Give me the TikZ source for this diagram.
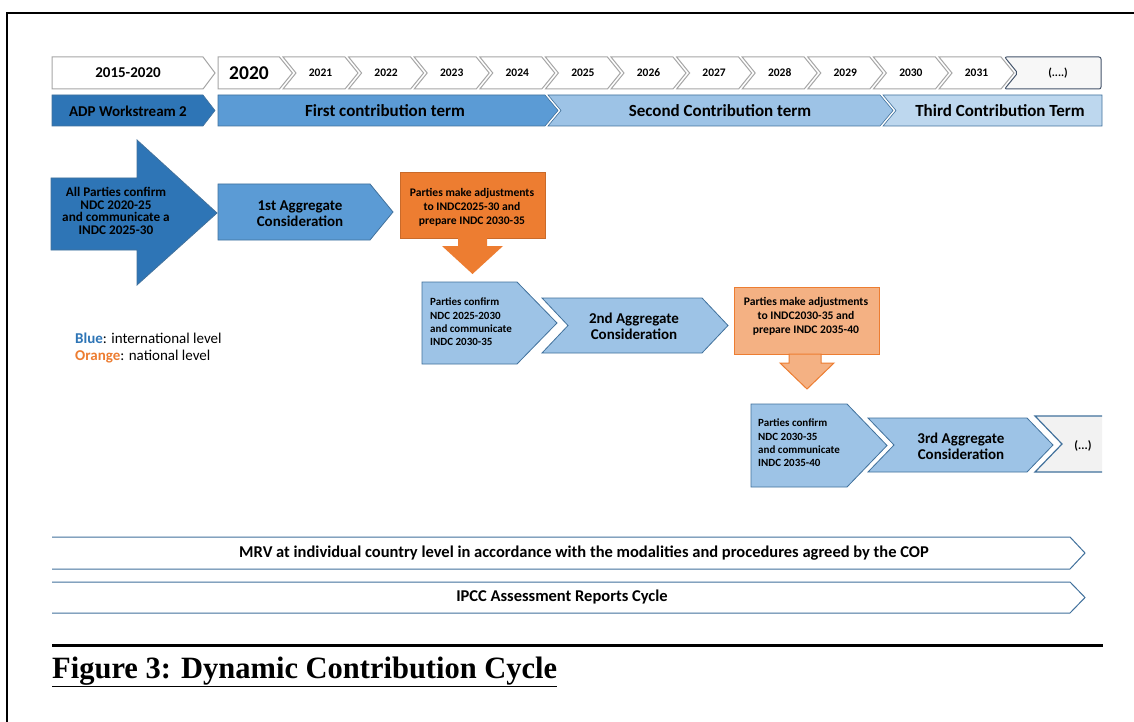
\documentclass[tikz,border=0pt]{standalone}
\usepackage{fontspec}
\usepackage{graphicx}
\setmainfont{Carlito}
\newfontfamily\capfont{Liberation Serif}
\definecolor{dblue}{HTML}{2E75B6}
\definecolor{mblue}{HTML}{5B9BD5}
\definecolor{lblue}{HTML}{9DC3E6}
\definecolor{xblue}{HTML}{BDD7EE}
\definecolor{edgeb}{HTML}{41719C}
\definecolor{orng}{HTML}{ED7D31}
\definecolor{lorng}{HTML}{F4B183}
\definecolor{gryline}{HTML}{A6A6A6}
\definecolor{lgray}{HTML}{F2F2F2}
\definecolor{slate}{HTML}{44546A}
\newcommand\fs[2]{\fontsize{#1}{#2}\selectfont}
% pentagon: style, x1, y1, xflat, xtip, y2
\newcommand\pentshape[6]{\path[#1] (#2,#3) -- (#4,#3) -- (#5,{(#3+#6)/2}) -- (#4,#6) -- (#2,#6) -- cycle;}
% chevron: style, xleft, y1, xflat, xtip, y2
\newcommand\chevshape[6]{\path[#1] (#2,#3) -- (#4,#3) -- (#5,{(#3+#6)/2}) -- (#4,#6) -- (#2,#6) -- ({#2+#5-#4},{(#3+#6)/2}) -- cycle;}
\tikzset{
  lbl/.style={inner sep=0pt, align=center, font=\bfseries},
  yearbox/.style={fill=white, draw=gryline, line width=1pt},
  termbox/.style={draw=edgeb, line width=0.6pt},
  bluebox/.style={draw=edgeb, line width=0.8pt},
  barbox/.style={fill=white, draw=edgeb, line width=1pt},
}
\begin{document}
\begin{tikzpicture}[x=1pt,y=-1pt]
\useasboundingbox (0,0) rectangle (1134,722);
\fill[white] (0,0) rectangle (1134,722);
% frame
\draw[line width=2pt] (7,722) -- (7,13) -- (1134,13);

% ---- year row ----
\pentshape{yearbox}{52}{57}{203}{215}{89}
\node[lbl, font=\bfseries\fs{15}{17}] (p1520) at (128,73) {2015-2020};
\pentshape{yearbox}{218}{57}{279.4}{292.4}{89}
\node[lbl, font=\bfseries\fs{19.5}{21}] (y2020) at (249,73) {2020};
\foreach \yr [count=\k from 0] in {2021,2022,2023,2024,2025,2026,2027,2028,2029,2030,2031}{
  \pgfmathsetmacro\L{283+65.6*\k}
  \pgfmathsetmacro\F{\L+62}
  \pgfmathsetmacro\T{\F+13}
  \chevshape{yearbox}{\L}{57}{\F}{\T}{89}
  \node[lbl, font=\bfseries\fs{11.5}{13}] (y\yr) at ({\L+37.5},73) {\yr};
}
\path[fill=lgray!60, draw=slate, line width=1pt, rounded corners=2pt] (1004.6,57) -- (1101,57) -- (1101,89) -- (1004.6,89) -- (1017.6,73) -- cycle;
\node[lbl, font=\bfseries\fs{11.5}{13}] (ymore) at (1058,73) {(....)};

% ---- term row ----
\pentshape{fill=dblue, termbox}{52}{95}{203}{215}{126}
\node[lbl, font=\bfseries\fs{15}{17}] (adp) at (128,111) {ADP Workstream 2};
\pentshape{fill=mblue, termbox}{218}{95}{545}{558}{126}
\node[lbl, font=\bfseries\fs{17}{19}] (t1) at (385,111) {First contribution term};
\chevshape{fill=lblue, termbox}{548}{95}{880}{893}{126}
\node[lbl, font=\bfseries\fs{17}{19}] (t2) at (720,111) {Second Contribution term};
\path[fill=xblue, termbox] (883,95) -- (1102,95) -- (1102,126) -- (883,126) -- (896,110.5) -- cycle;
\node[lbl, font=\bfseries\fs{17}{19}] (t3) at (1000,111) {Third Contribution Term};

% ---- big arrow ----
\path[fill=dblue, bluebox] (51,178) -- (137,178) -- (137,140) -- (217,213) -- (137,285) -- (137,250) -- (51,250) -- cycle;
\node[lbl, font=\bfseries\fs{13.2}{12.7}, text=black] (allp) at (116,211) {All Parties confirm\\NDC 2020-25\\and communicate a\\INDC 2025-30};

% 1st aggregate
\pentshape{fill=mblue, bluebox}{218}{184}{370}{393}{240}
\node[lbl, font=\bfseries\fs{15}{16}] (agg1) at (300,214) {1st Aggregate\\Consideration};

% orange box 1
\path[fill=orng, draw=orng!85!black, line width=0.6pt] (400,172) rectangle (545,238);
\node[lbl, font=\bfseries\fs{11.6}{14}] (adj1) at (472,207) {Parties make adjustments\\to INDC2025-30 and\\prepare INDC 2030-35};
\path[fill=orng] (458,238) -- (487,238) -- (487,246) -- (503,246) -- (472.5,274) -- (442,246) -- (458,246) -- cycle;

% second row
\pentshape{fill=lblue, bluebox}{422}{282}{517}{557}{364}
\node[lbl, font=\bfseries\fs{11}{13.3}, align=left, anchor=west] (conf2) at (430,322) {Parties confirm\\NDC 2025-2030\\and communicate\\INDC 2030-35};
\chevshape{fill=lblue, bluebox}{542}{298}{702}{728}{353}
\node[lbl, font=\bfseries\fs{15}{16}] (agg2) at (634,326) {2nd Aggregate\\Consideration};

% orange box 2
\path[fill=lorng, draw=orng, line width=1pt] (734,287) rectangle (879,354);
\node[lbl, font=\bfseries\fs{11.6}{14}] (adj2) at (806,316) {Parties make adjustments\\to INDC2030-35 and\\prepare INDC 2035-40};
\path[fill=lorng, draw=orng, line width=1pt] (789,354) -- (821,354) -- (821,363) -- (834,363) -- (807,389) -- (780,363) -- (789,363) -- cycle;

% third row
\pentshape{fill=lblue, bluebox}{751}{404}{847}{887}{487}
\node[lbl, font=\bfseries\fs{11}{13.3}, align=left, anchor=west] (conf3) at (758,443) {Parties confirm\\NDC 2030-35\\and communicate\\INDC 2035-40};
\chevshape{fill=lblue, bluebox}{868}{418}{1027}{1053}{472}
\node[lbl, font=\bfseries\fs{15}{16}] (agg3) at (961,446) {3rd Aggregate\\Consideration};
\path[fill=lgray, draw=none] (1035,416) -- (1102,416) -- (1102,472) -- (1035,472) -- (1062,444) -- cycle;
\draw[edgeb, line width=1.2pt] (1102,416) -- (1035,416) -- (1062,444) -- (1035,472) -- (1102,472);
\node[lbl, font=\bfseries\fs{12}{14}] (more3) at (1083,446) {(...)};

% legend
\node[inner sep=0pt, anchor=west, font=\fs{15}{17}] (leg1) at (75,338) {\textbf{\textcolor{dblue}{Blue}}: international level};
\node[inner sep=0pt, anchor=west, font=\fs{15}{17}] (leg2) at (75,357) {\textbf{\textcolor{orng}{Orange}}: national level};

% bars
\path[barbox] (52,537) -- (1070,537) -- (1085,553) -- (1070,569) -- (52,569);
\node[lbl, font=\bfseries\fs{16.5}{18}] (mrv) at (584,553) {MRV at individual country level in accordance with the modalities and procedures agreed by the COP};
\path[barbox] (52,582) -- (1070,582) -- (1085,597.5) -- (1070,613) -- (52,613);
\node[lbl, font=\bfseries\fs{16.5}{18}] (ipcc) at (562,597.5) {IPCC Assessment Reports Cycle};

% rule + caption
\draw[line width=3pt] (52,645) -- (1103,645);
\node[inner sep=0pt, anchor=base west, font=\capfont\bfseries\fs{31}{33}] (cap) at (52,678) {\resizebox{505pt}{\height}{\underline{Figure 3: Dynamic Contribution Cycle}}};
\end{tikzpicture}
\end{document}
